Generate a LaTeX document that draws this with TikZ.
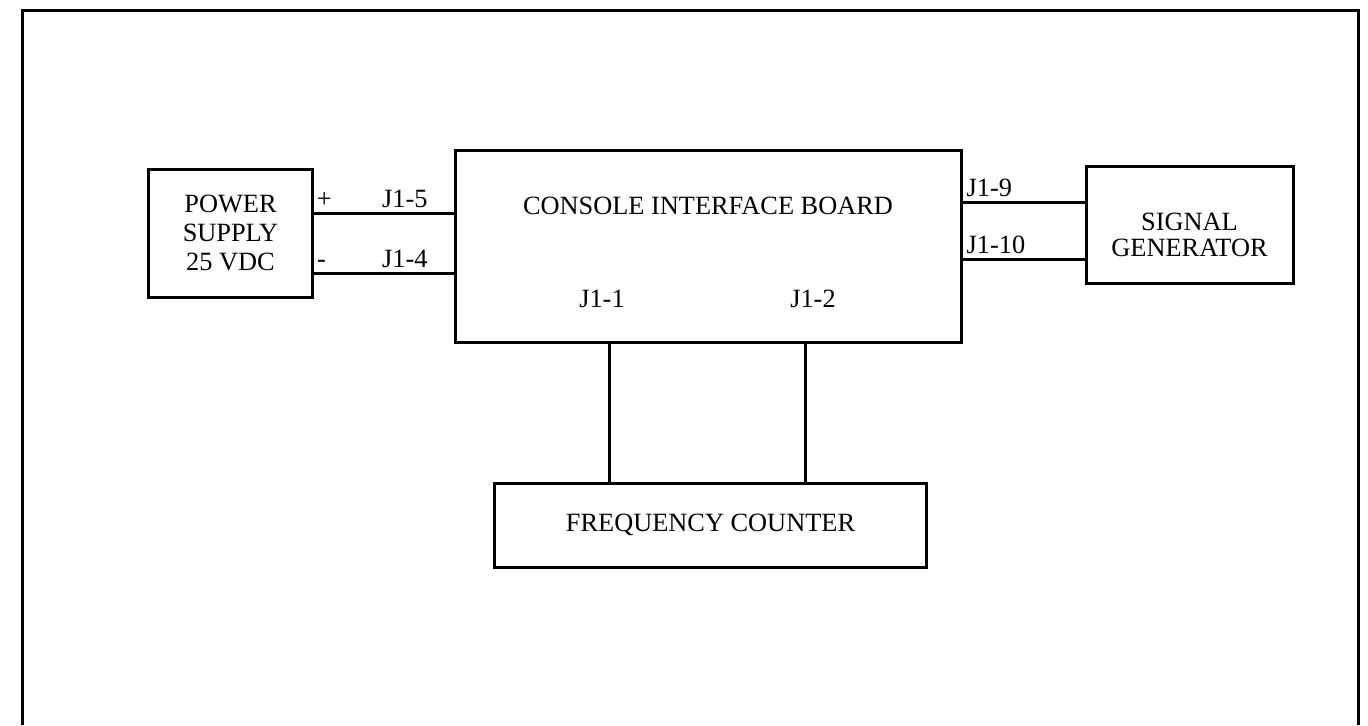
\documentclass[tikz,border=0pt]{standalone}
\usepackage{fontspec}
\setmainfont{Liberation Serif}
\usetikzlibrary{positioning}

\begin{document}
\begin{tikzpicture}[
    x = 0.02cm, y = -0.02cm,
    font = \fontsize{15pt}{16.5pt}\selectfont,
    unit/.style = {draw, rectangle, line width=0.06cm, align=center, inner sep=0pt},
    wire/.style = {line width=0.06cm},
    pin/.style = {inner sep=2pt}
]
    \useasboundingbox (0,0) rectangle (1368,725);
    % Frame
    \draw [wire] (22,725) |- (1358,10) -- (1358,725);

    % Nodes
    \node [unit, minimum width=10.14cm, minimum height=3.86cm] (board) at (708.5,246.5) {};
    \node (boardtext) at (708,206) {CONSOLE INTERFACE BOARD};
    \node [unit, minimum width=3.3cm, minimum height=2.56cm] (supply) at (230.5,233) {POWER\\SUPPLY\\25 VDC};
    \node [unit, minimum width=4.14cm, minimum height=2.34cm] (siggen) at (1189.5,224.5) {};
    \node [align=center, font=\fontsize{15pt}{14.5pt}\selectfont] (siggentext) at (1189.5,235) {SIGNAL\\GENERATOR};
    \node [unit, minimum width=8.66cm, minimum height=1.68cm] (counter) at (710.5,525) {FREQUENCY COUNTER};
    \node (j11) at (602,299) {J1-1};
    \node (j12) at (813,299) {J1-2};

    % Edges
    \draw [wire] (supply.east |- 0,213) -- node [pin, above, pos=0.07] {+} node [pin, above, pos=0.65] {J1-5} (board.west |- 0,213);
    \draw [wire] (supply.east |- 0,273) -- node [pin, above, pos=0.05] {-} node [pin, above, pos=0.65] {J1-4} (board.west |- 0,273);
    \draw [wire] (board.east |- 0,202) -- node [pin, above right, pos=0, inner xsep=1pt] {J1-9} (siggen.west |- 0,202);
    \draw [wire] (board.east |- 0,259) -- node [pin, above right, pos=0, inner xsep=1pt] {J1-10} (siggen.west |- 0,259);
    \draw [wire] (board.south -| 609,0) -- (counter.north -| 609,0);
    \draw [wire] (board.south -| 805,0) -- (counter.north -| 805,0);

\end{tikzpicture}
\end{document}
